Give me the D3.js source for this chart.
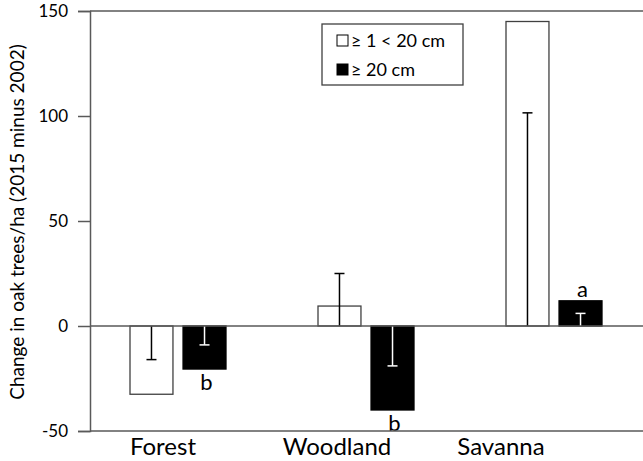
<!doctype html>
<html>
<head>
<meta charset="utf-8">
<title>oak trees change</title>
<script src="https://d3js.org/d3.v7.min.js"></script>
<style>
  body { margin:0; background:#fff; }
  text { font-family: Lato, "Open Sans", sans-serif; fill:#000; }
</style>
</head>
<body>
<svg></svg>
<script>
let w = 643, h = 461;

// data
let categories = ['Forest', 'Woodland', 'Savanna'];
let seriesNames = ['\u2265 1 < 20 cm', '\u2265 20 cm'];
let smallTrees = [-32.5, 9.5, 145];
let largeTrees = [-20.5, -40, 12];
// error bars are drawn from zero to these values
let smallErr = [-16, 25, 101.5];
let largeErr = [-9, -19, 6];
let letters = [['', 'b'], ['', 'b'], ['', 'a']];
let yTicks = [-50, 0, 50, 100, 150];
let labelShift = [-15, -29, -53];

let svg = d3.select('svg').attr('width', w).attr('height', h);

let x0 = d3.scaleBand()
  .domain(categories)
  .range([84, 648])
  .padding(0);
let x1 = d3.scaleBand()
  .domain([0, 1])
  .range([46, 142])
  .paddingInner(0.19);
let y = d3.scaleLinear()
  .domain([-50, 150])
  .range([431, 11]);

let rows = categories.map(function(c, i) {
  return { cat: c, vals: [smallTrees[i], largeTrees[i]], errs: [smallErr[i], largeErr[i]], lab: letters[i] };
});

let groups = svg.selectAll('g.grp')
  .data(rows)
  .enter()
  .append('g')
  .attr('class', 'grp')
  .attr('transform', function(d) { return 'translate(' + x0(d.cat) + ',0)'; });

let bars = groups.selectAll('g.bar')
  .data(function(d) {
    return d.vals.map(function(v, j) { return { v: v, e: d.errs[j], j: j, lab: d.lab[j] }; });
  })
  .enter()
  .append('g')
  .attr('class', 'bar');

bars.append('rect')
  .attr('x', function(d) { return x1(d.j); })
  .attr('y', function(d) { return y(Math.max(0, d.v)); })
  .attr('width', x1.bandwidth())
  .attr('height', function(d) { return Math.abs(y(d.v) - y(0)); })
  .attr('fill', function(d) { return d.j === 0 ? '#fff' : '#000'; })
  .attr('stroke', function(d) { return d.j === 0 ? '#404040' : '#000'; })
  .attr('stroke-width', 1.3);

// error bars
bars.append('line')
  .attr('x1', function(d) { return x1(d.j) + x1.bandwidth() / 2; })
  .attr('x2', function(d) { return x1(d.j) + x1.bandwidth() / 2; })
  .attr('y1', y(0))
  .attr('y2', function(d) { return y(d.e); })
  .attr('stroke', function(d) { return d.j === 0 ? '#000' : '#fff'; })
  .attr('stroke-width', 1.5);
bars.append('line')
  .attr('x1', function(d) { return x1(d.j) + x1.bandwidth() / 2 - 5; })
  .attr('x2', function(d) { return x1(d.j) + x1.bandwidth() / 2 + 5; })
  .attr('y1', function(d) { return y(d.e); })
  .attr('y2', function(d) { return y(d.e); })
  .attr('stroke', function(d) { return d.j === 0 ? '#000' : '#fff'; })
  .attr('stroke-width', 1.5);

// significance letters
bars.append('text')
  .attr('x', function(d) { return x1(d.j) + x1.bandwidth() / 2 + 2; })
  .attr('y', function(d) { return d.v < 0 ? y(d.v) + 21 : y(d.v) - 4; })
  .attr('text-anchor', 'middle')
  .style('font-size', '22px')
  .text(function(d) { return d.lab; });

// frame lines
svg.append('line')
  .attr('x1', 90).attr('x2', w)
  .attr('y1', y(150)).attr('y2', y(150))
  .attr('stroke', '#595959').attr('stroke-width', 1.5);
svg.append('line')
  .attr('x1', 90).attr('x2', w)
  .attr('y1', y(0)).attr('y2', y(0))
  .attr('stroke', '#595959').attr('stroke-width', 1.5);
svg.append('line')
  .attr('x1', 90).attr('x2', w)
  .attr('y1', y(-50)).attr('y2', y(-50))
  .attr('stroke', '#595959').attr('stroke-width', 1.5);

let yAxis = svg.append('g')
  .attr('transform', 'translate(90,0)')
  .call(d3.axisLeft(y).tickValues(yTicks).tickSize(12).tickPadding(10).tickFormat(function(d) { return String(d); }));
yAxis.select('.domain').attr('stroke', '#595959').attr('stroke-width', 1.5);
yAxis.selectAll('.tick line').attr('stroke', '#595959').attr('stroke-width', 1.5);
yAxis.selectAll('.tick text')
  .style('font-size', '17px')
  .style('font-family', 'Lato, sans-serif')
  .attr('fill', '#000');

// y title
svg.append('text')
  .attr('transform', 'translate(24,222) rotate(-90)')
  .attr('text-anchor', 'middle')
  .style('font-size', '19px')
  .text('Change in oak trees/ha (2015 minus 2002)');

// category labels
svg.selectAll('text.cat')
  .data(categories)
  .enter()
  .append('text')
  .attr('class', 'cat')
  .attr('x', function(d, i) { return x0(d) + x0.bandwidth() / 2 + labelShift[i]; })
  .attr('y', 455)
  .attr('text-anchor', 'middle')
  .style('font-size', '24px')
  .text(function(d) { return d; });

// legend
let legend = svg.append('g');
legend.append('rect')
  .attr('x', 322).attr('y', 24).attr('width', 141).attr('height', 61)
  .attr('fill', '#fff').attr('stroke', '#404040').attr('stroke-width', 1.3);
let items = legend.selectAll('g.item')
  .data(seriesNames)
  .enter()
  .append('g')
  .attr('class', 'item')
  .attr('transform', function(d, i) { return 'translate(337,' + (35 + i * 29) + ')'; });
items.append('rect')
  .attr('width', 11).attr('height', 11)
  .attr('fill', function(d, i) { return i === 0 ? '#fff' : '#000'; })
  .attr('stroke', '#000').attr('stroke-width', 1);
items.append('text')
  .attr('x', 14).attr('y', 12)
  .style('font-size', '18px')
  .text(function(d) { return d; });
</script>
</body>
</html>
